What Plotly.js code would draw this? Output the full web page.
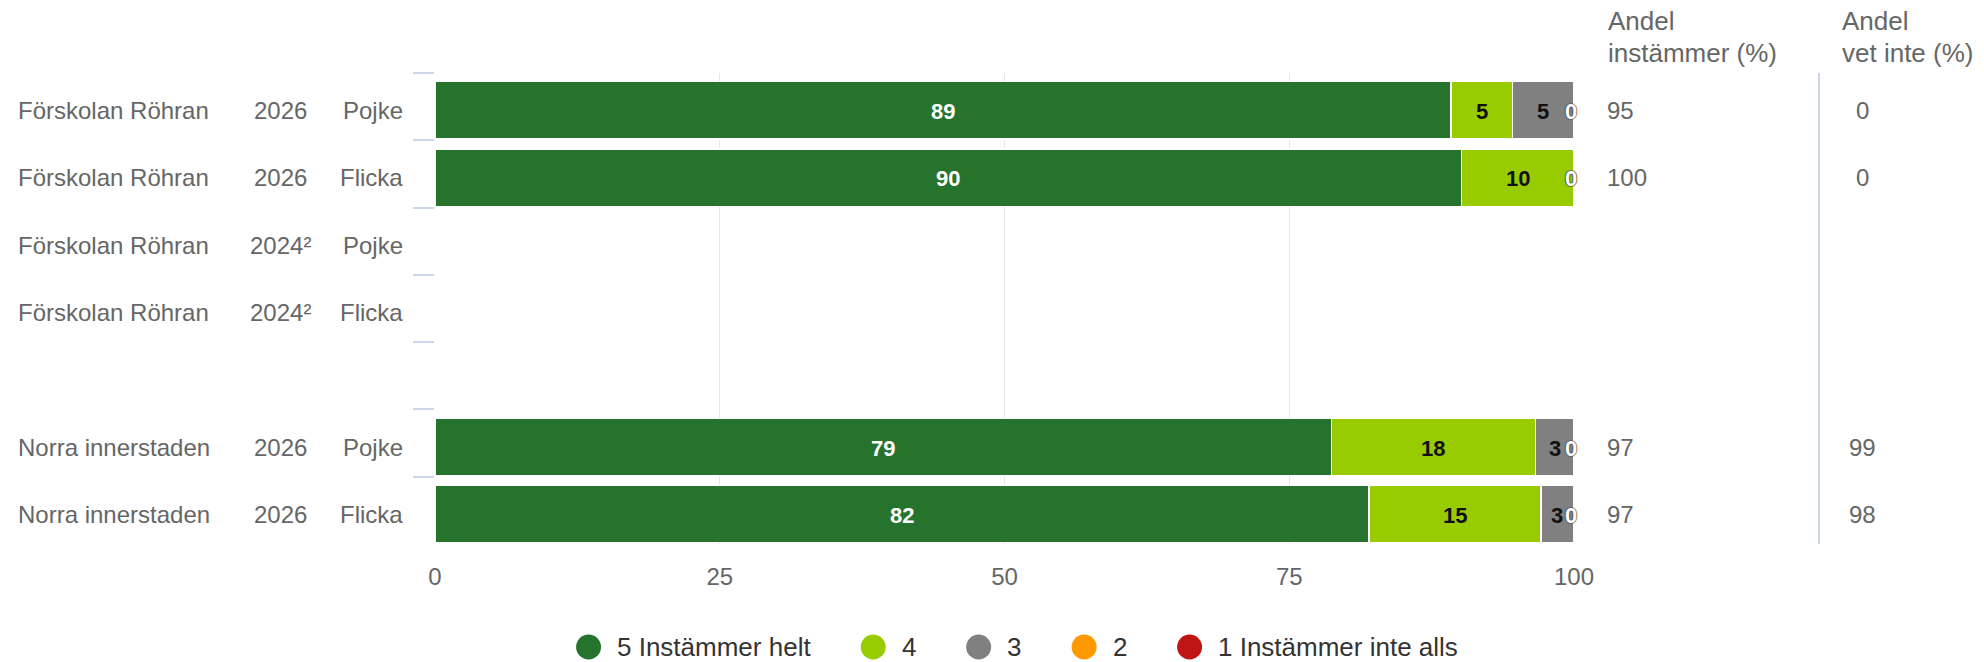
<!DOCTYPE html>
<html>
<head>
<meta charset="utf-8">
<script src="https://cdn.plot.ly/plotly-3.0.1.min.js"></script>
<style>
  html, body { margin: 0; padding: 0; background: #ffffff; }
  #chart { width: 1984px; height: 662px; }
</style>
</head>
<body>
<div id="chart"></div>
<script>
// ---------- DATA ----------
const units   = ["Förskolan Röhran", "Förskolan Röhran", "Förskolan Röhran", "Förskolan Röhran", "", "Norra innerstaden", "Norra innerstaden"];
const years   = ["2026", "2026", "2024²", "2024²", "", "2026", "2026"];
const genders = ["Pojke", "Flicka", "Pojke", "Flicka", "", "Pojke", "Flicka"];

const seriesNames  = ["5 Instämmer helt", "4", "3", "2", "1 Instämmer inte alls"];
const seriesColors = ["#26732e", "#99cc00", "#808080", "#ff9900", "#bf1515"];
const labelColors  = ["#ffffff", "#111111", "#111111", "#111111", "#ffffff"];

const s5 = [89.2, 90.1, null, null, null, 78.7, 82.0];
const s4 = [5.4, 9.9, null, null, null, 17.9, 15.1];
const s3 = [5.4, 0, null, null, null, 3.4, 2.9];
const s2 = [0, 0, null, null, null, 0, 0];
const s1 = [0, 0, null, null, null, 0, 0];
const seriesValues = [s5, s4, s3, s2, s1];

const andelInstammer = [95, 100, null, null, null, 97, 97];
const andelVetInte   = [0, 0, null, null, null, 99, 98];

const headerInstammer = ["Andel", "instämmer (%)"];
const headerVetInte   = ["Andel", "vet inte (%)"];
const xTicks = [0, 25, 50, 75, 100];

// ---------- LAYOUT GEOMETRY ----------
const W = 1984, H = 662;
const L = 435, R = 1574, T = 73, B = 544;
const PW = R - L, PH = B - T;
const px2x = px => (px - L) / PW;
const py2y = py => (B - py) / PH;
const FONT = '"Liberation Sans", Arial, Helvetica, sans-serif';
const ROW_SHIFT = -4;

const rowIds = units.map((u, i) => 'r' + i);

// ---------- TRACES ----------
const traces = [];
seriesValues.forEach((vals, si) => {
  traces.push({
    type: 'bar', orientation: 'h',
    name: seriesNames[si],
    x: vals, y: rowIds,
    width: 0.85, offset: -0.37,
    marker: { color: seriesColors[si], line: { color: '#ffffff', width: 1.2 } },
    textposition: 'none', hoverinfo: 'skip', showlegend: false
  });
});

// ---------- ANNOTATIONS ----------
const ann = [];

// data labels, placed through the axes from the data
const cum = rowIds.map(() => 0);
const tidy = v => Math.round(v * 1e6) / 1e6;
seriesValues.forEach((vals, si) => {
  vals.forEach((v, ri) => {
    if (v === null || v === undefined) return;
    if (v > 0) {
      ann.push({ xref: 'x', yref: 'y', x: tidy(cum[ri] + v / 2), y: rowIds[ri], xanchor: 'center', yanchor: 'middle',
        yshift: ROW_SHIFT - 1, text: '<b>' + Math.round(v) + '</b>', showarrow: false,
        font: { family: FONT, size: 22, color: labelColors[si] } });
    } else {
      ann.push({ xref: 'x', yref: 'y', x: tidy(cum[ri]), y: rowIds[ri], xanchor: 'center', yanchor: 'middle',
        xshift: -3, yshift: ROW_SHIFT - 1, text: '<b>0</b>', showarrow: false,
        font: { family: FONT, size: 22, color: '#ffffff', shadow: '0 0 1px #333, 0 0 1px #333' } });
    }
    cum[ri] = tidy(cum[ri] + v);
  });
});

const labelFont = { family: FONT, size: 24, color: '#666666' };
rowIds.forEach((id, i) => {
  if (units[i]) ann.push({ xref: 'paper', yref: 'y', x: px2x(16), y: id, xanchor: 'left', yanchor: 'middle', yshift: ROW_SHIFT, text: units[i], showarrow: false, font: labelFont });
  if (years[i]) ann.push({ xref: 'paper', yref: 'y', x: px2x(280), y: id, xanchor: 'center', yanchor: 'middle', yshift: ROW_SHIFT, text: years[i], showarrow: false, font: labelFont });
  if (genders[i]) ann.push({ xref: 'paper', yref: 'y', x: px2x(405), y: id, xanchor: 'right', yanchor: 'middle', yshift: ROW_SHIFT, text: genders[i], showarrow: false, font: labelFont });
  if (andelInstammer[i] !== null) ann.push({ xref: 'paper', yref: 'y', x: px2x(1605), y: id, xanchor: 'left', yanchor: 'middle', yshift: ROW_SHIFT, text: String(andelInstammer[i]), showarrow: false, font: labelFont });
  if (andelVetInte[i] !== null) ann.push({ xref: 'paper', yref: 'y', x: px2x(1862), y: id, xanchor: 'center', yanchor: 'middle', yshift: ROW_SHIFT, text: String(andelVetInte[i]), showarrow: false, font: labelFont });
});
const headerFont = { family: FONT, size: 26, color: '#666666' };
const headerRowsY = [21, 53];
headerInstammer.forEach((t, k) => ann.push({ xref: 'paper', yref: 'paper', x: px2x(1606), y: py2y(headerRowsY[k]), xanchor: 'left', yanchor: 'middle', text: t, showarrow: false, font: headerFont }));
headerVetInte.forEach((t, k) => ann.push({ xref: 'paper', yref: 'paper', x: px2x(1840), y: py2y(headerRowsY[k]), xanchor: 'left', yanchor: 'middle', text: t, showarrow: false, font: headerFont }));

// ---------- LEGEND (circles + text) ----------
const shapes = [];
const legFontSize = 26;
const ctx = document.createElement('canvas').getContext('2d');
ctx.font = legFontSize + 'px "Liberation Sans"';
const circleD = 25, circleGap = 16, itemGap = 50;
const widths = seriesNames.map(n => circleD + circleGap + ctx.measureText(n).width);
const total = widths.reduce((a, b) => a + b, 0) + itemGap * (seriesNames.length - 1);
let cx = 1017 - total / 2;
const legY = 647;
seriesNames.forEach((n, i) => {
  shapes.push({ type: 'circle', xref: 'paper', yref: 'paper', xsizemode: 'pixel', ysizemode: 'pixel',
    xanchor: px2x(cx + circleD / 2), yanchor: py2y(legY), x0: -circleD / 2, x1: circleD / 2, y0: -circleD / 2, y1: circleD / 2,
    fillcolor: seriesColors[i], line: { width: 0 } });
  ann.push({ xref: 'paper', yref: 'paper', x: px2x(cx + circleD + circleGap - 2), y: py2y(legY), xanchor: 'left', yanchor: 'middle',
    text: n, showarrow: false, font: { family: FONT, size: legFontSize, color: '#333333' } });
  cx += widths[i] + itemGap;
});

// separator line for the right-hand columns
shapes.push({ type: 'line', xref: 'paper', yref: 'paper', x0: px2x(1819), x1: px2x(1819), y0: 0, y1: 1,
  line: { color: '#ccd6eb', width: 2 } });

const layout = {
  width: W, height: H,
  margin: { l: L, r: W - R, t: T, b: H - B, pad: 0 },
  paper_bgcolor: '#ffffff', plot_bgcolor: '#ffffff',
  barmode: 'stack',
  showlegend: false,
  font: { family: FONT, color: '#666666' },
  xaxis: {
    range: [0, 100], tickvals: xTicks, ticktext: xTicks.map(String),
    showgrid: true, gridcolor: '#e6e6e6', gridwidth: 1, zeroline: false, showline: false,
    ticks: '', tickfont: { family: FONT, size: 24, color: '#666666' }, ticklabelstandoff: 16,
    fixedrange: true
  },
  yaxis: {
    type: 'category', categoryorder: 'array', categoryarray: rowIds,
    range: [rowIds.length - 0.5, -0.5],
    showticklabels: false, showgrid: false, zeroline: false, showline: false,
    ticks: 'outside', tickson: 'boundaries', ticklen: 21, tickwidth: 2, tickcolor: '#ccd6eb',
    fixedrange: true
  },
  annotations: ann,
  shapes: shapes
};

Plotly.newPlot('chart', traces, layout, { displayModeBar: false, staticPlot: true });
</script>
</body>
</html>
